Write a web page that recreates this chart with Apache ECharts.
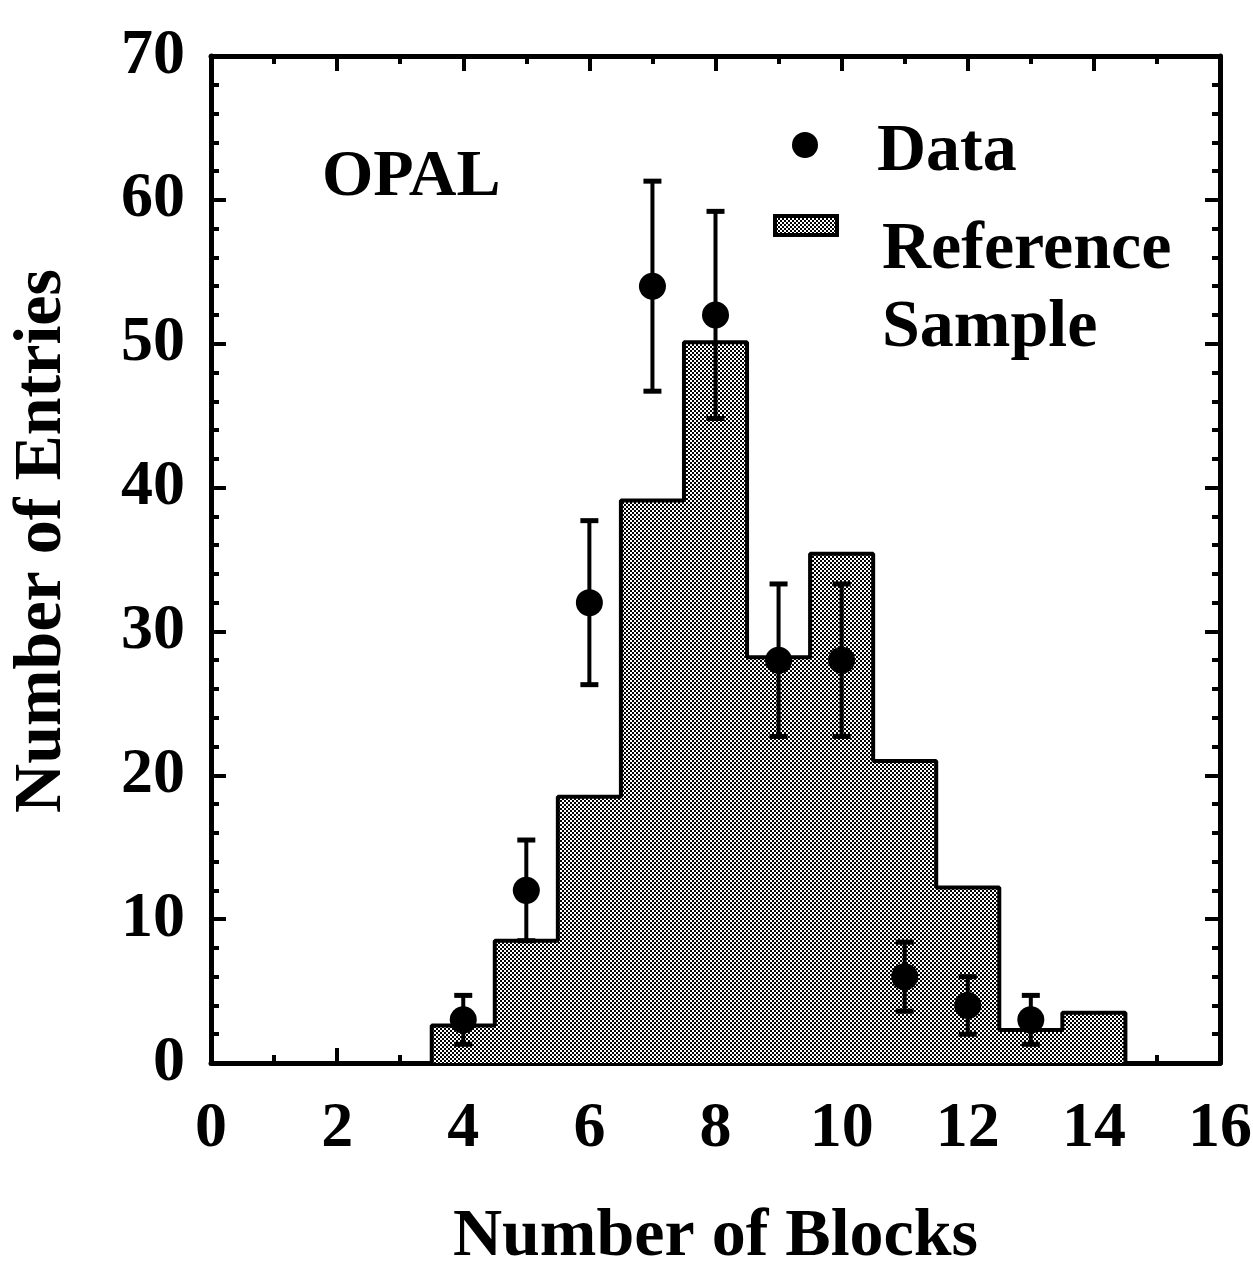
<!DOCTYPE html>
<html>
<head>
<meta charset="utf-8">
<script src="https://cdn.jsdelivr.net/npm/echarts@6/dist/echarts.min.js"></script>
<style>
html,body{margin:0;padding:0;background:#fff;}
#chart{width:1253px;height:1268px;}
</style>
</head>
<body>
<div id="chart"></div>
<script>
// ---- Data ----
const binCenters = [4, 5, 6, 7, 8, 9, 10, 11, 12, 13, 14];
const refCounts  = [2.6, 8.5, 18.5, 39.1, 50.1, 28.2, 35.4, 21.0, 12.2, 2.3, 3.5];
const dataX   = [4, 5, 6, 7, 8, 9, 10, 11, 12, 13];
const dataY   = [3, 12, 32, 54, 52, 28, 28, 6, 4, 3];
const dataErr = [1.7, 3.5, 5.7, 7.3, 7.2, 5.3, 5.3, 2.4, 2.0, 1.7];
const xTickLabels = ['0','2','4','6','8','10','12','14','16'];
const yTickLabels = ['0','10','20','30','40','50','60','70'];
const xTitle = 'Number of Blocks';
const yTitle = 'Number of Entries';

// ---- Build helpers ----
const FONT = "'Liberation Serif', 'Times New Roman', serif";
const pat = document.createElement('canvas');
pat.width = 4; pat.height = 4;
(function(){
  const g = pat.getContext('2d');
  g.fillStyle = '#fff'; g.fillRect(0,0,4,4);
  g.fillStyle = '#000'; g.fillRect(0,0,2,2); g.fillRect(2,2,2,2);
})();
const patternFill = { image: pat, repeat: 'repeat' };

// step outline vertices of the histogram (bin width 1)
const stepPts = [];
stepPts.push([binCenters[0] - 0.5, 0]);
binCenters.forEach((c, i) => {
  stepPts.push([c - 0.5, refCounts[i]]);
  stepPts.push([c + 0.5, refCounts[i]]);
});
stepPts.push([binCenters[binCenters.length - 1] + 0.5, 0]);

const errData = dataX.map((x, i) => [x, dataY[i], dataErr[i]]);
const ptData = dataX.map((x, i) => [x, dataY[i]]);

const axisCommon = {
  type: 'value',
  axisLine: { show: true, onZero: false, lineStyle: { color: '#000', width: 5 } },
  axisTick: { show: true, inside: true, length: 15, lineStyle: { color: '#000', width: 4 } },
  minorTick: { show: true, length: 8, lineStyle: { color: '#000', width: 4 } },
  splitLine: { show: false },
  minorSplitLine: { show: false }
};

const chart = echarts.init(document.getElementById('chart'), null, { renderer: 'canvas' });
chart.setOption({
  backgroundColor: '#fff',
  animation: false,
  grid: { left: 211, right: 33, top: 56, bottom: 205, containLabel: false, outerBoundsMode: 'none' },
  xAxis: [
    Object.assign({}, axisCommon, {
      position: 'bottom', min: 0, max: 16, interval: 2,
      minorTick: Object.assign({}, axisCommon.minorTick, { splitNumber: 2 }),
      axisLabel: {
        margin: 34, color: '#000', fontFamily: FONT, fontWeight: 'bold', fontSize: 64,
        formatter: (v) => xTickLabels[Math.round(v / 2)] ?? ''
      },
      name: xTitle, nameLocation: 'middle', nameGap: 140,
      nameTextStyle: { color: '#000', fontFamily: FONT, fontWeight: 'bold', fontSize: 68 }
    }),
    Object.assign({}, axisCommon, {
      position: 'top', min: 0, max: 16, interval: 2,
      minorTick: Object.assign({}, axisCommon.minorTick, { splitNumber: 2 }),
      axisLabel: { show: false }
    })
  ],
  yAxis: [
    Object.assign({}, axisCommon, {
      position: 'left', min: 0, max: 70, interval: 10,
      minorTick: Object.assign({}, axisCommon.minorTick, { splitNumber: 5 }),
      axisLabel: {
        margin: 26, color: '#000', fontFamily: FONT, fontWeight: 'bold', fontSize: 64,
        formatter: (v) => yTickLabels[Math.round(v / 10)] ?? ''
      }
    }),
    Object.assign({}, axisCommon, {
      position: 'right', min: 0, max: 70, interval: 10,
      minorTick: Object.assign({}, axisCommon.minorTick, { splitNumber: 5 }),
      axisLabel: { show: false }
    })
  ],
  series: [
    {
      type: 'line',
      name: 'Reference Sample',
      data: stepPts,
      symbol: 'none',
      lineStyle: { color: '#000', width: 4 },
      areaStyle: { color: patternFill, opacity: 1 },
      z: 2
    },
    {
      type: 'custom',
      name: 'errors',
      data: errData,
      encode: { x: 0, y: 1 },
      renderItem: function (params, api) {
        const x = api.value(0), y = api.value(1), e = api.value(2);
        const t = api.coord([x, y + e]);
        const b = api.coord([x, y - e]);
        const hw = 9;
        const st = { stroke: '#000', lineWidth: 4 };
        const cs = { stroke: '#000', lineWidth: 5 };
        return {
          type: 'group',
          children: [
            { type: 'line', shape: { x1: t[0], y1: t[1], x2: b[0], y2: b[1] }, style: st },
            { type: 'line', shape: { x1: t[0] - hw, y1: t[1], x2: t[0] + hw, y2: t[1] }, style: cs },
            { type: 'line', shape: { x1: b[0] - hw, y1: b[1], x2: b[0] + hw, y2: b[1] }, style: cs }
          ]
        };
      },
      z: 3
    },
    {
      type: 'scatter',
      name: 'Data',
      data: ptData,
      symbol: 'circle',
      symbolSize: 27,
      itemStyle: { color: '#000', opacity: 1 },
      z: 4
    }
  ],
  graphic: [
    { type: 'text', x: 42, y: 541, rotation: Math.PI / 2, z: 10,
      style: { text: yTitle, fill: '#000', align: 'center', verticalAlign: 'middle',
               font: "bold 68px 'Liberation Serif', serif" } },
    { type: 'text', left: 322, top: 145, z: 10,
      style: { text: 'OPAL', fill: '#000', font: "bold 66px 'Liberation Serif', serif" } },
    { type: 'circle', shape: { cx: 805, cy: 145, r: 13 }, style: { fill: '#000' }, z: 10 },
    { type: 'text', left: 877, top: 118, z: 10,
      style: { text: 'Data', fill: '#000', font: "bold 68px 'Liberation Serif', serif" } },
    { type: 'rect', shape: { x: 775, y: 216, width: 62, height: 19 },
      style: { fill: patternFill, stroke: '#000', lineWidth: 4 }, z: 10 },
    { type: 'text', left: 882, top: 216, z: 10,
      style: { text: 'Reference', fill: '#000', font: "bold 68px 'Liberation Serif', serif" } },
    { type: 'text', left: 882, top: 294, z: 10,
      style: { text: 'Sample', fill: '#000', font: "bold 68px 'Liberation Serif', serif" } }
  ]
});
</script>
</body>
</html>
